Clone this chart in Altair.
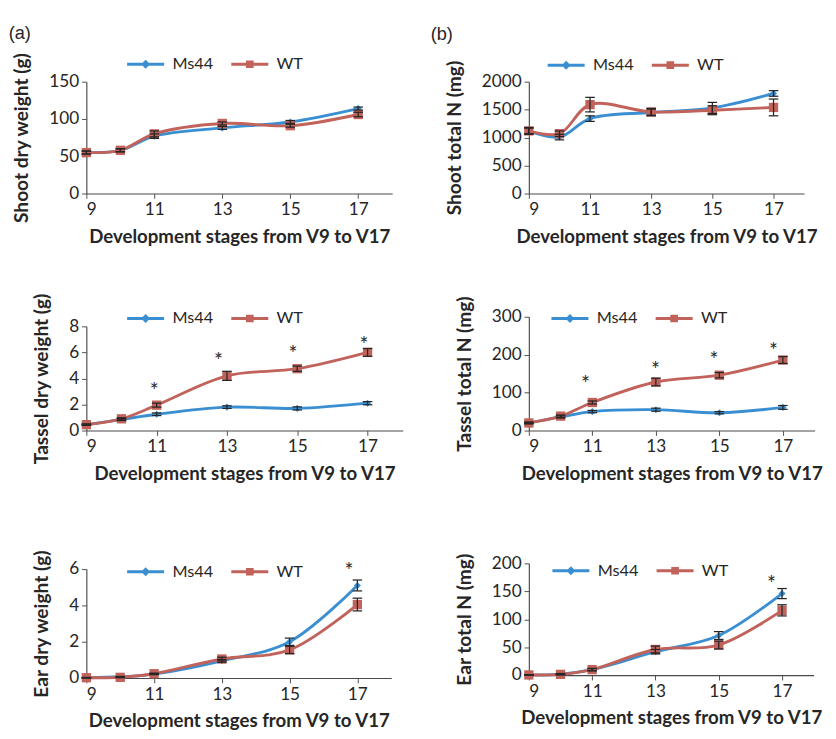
import altair as alt
import pandas as pd

stages = [9, 10, 11, 13, 15, 17]
series_names = ["Ms44", "WT"]
series_colors = ["#3A8FD2", "#C1625B"]
x_ticks = [9, 11, 13, 15, 17]
x_title = "Development stages from V9 to V17"

# Shoot dry weight (g)
shoot_dw_ms = [55, 58, 77, 88, 96, 114]
shoot_dw_wt = [55, 58, 80, 94, 91, 106]
shoot_dw_ms_err = [2, 2, 3, 2, 2, 2]
shoot_dw_wt_err = [2, 2, 4, 2, 2, 3]

# Shoot total N (mg)
shoot_n_ms = [1120, 1010, 1340, 1450, 1530, 1790]
shoot_n_wt = [1120, 1070, 1590, 1460, 1490, 1540]
shoot_n_ms_err = [60, 50, 50, 60, 100, 50]
shoot_n_wt_err = [50, 50, 130, 60, 80, 150]

# Tassel dry weight (g)
tassel_dw_ms = [0.45, 0.85, 1.25, 1.8, 1.7, 2.1]
tassel_dw_wt = [0.45, 0.9, 1.95, 4.2, 4.75, 6.0]
tassel_dw_ms_err = [0.05, 0.08, 0.1, 0.1, 0.12, 0.12]
tassel_dw_wt_err = [0.05, 0.08, 0.15, 0.35, 0.2, 0.3]
tassel_dw_star_x = [10.93, 12.76, 14.88, 16.9]
tassel_dw_star_y = [3.4, 5.7, 6.2, 6.9]

# Tassel total N (mg)
tassel_n_ms = [20, 36, 50, 55, 47, 61]
tassel_n_wt = [20, 38, 74, 128, 146, 186]
tassel_n_ms_err = [2, 3, 3, 4, 3, 5]
tassel_n_wt_err = [2, 3, 4, 10, 7, 9]
tassel_n_star_x = [10.78, 12.99, 14.83, 16.7]
tassel_n_star_y = [134, 171, 199, 222]

# Ear dry weight (g)
ear_dw_ms = [0.02, 0.07, 0.22, 0.95, 2.0, 5.1]
ear_dw_wt = [0.02, 0.04, 0.24, 1.05, 1.55, 4.05]
ear_dw_ms_err = [0.01, 0.02, 0.03, 0.08, 0.2, 0.3]
ear_dw_wt_err = [0.01, 0.02, 0.03, 0.1, 0.2, 0.35]
ear_dw_star_x = [16.75]
ear_dw_star_y = [6.16]

# Ear total N (mg)
ear_n_ms = [0.5, 2, 10, 42, 71, 146]
ear_n_wt = [0.5, 1.5, 10, 46, 54, 116]
ear_n_ms_err = [0.5, 1, 2, 4, 7, 9]
ear_n_wt_err = [0.5, 1, 2, 6, 7, 10]
ear_n_star_x = [16.67]
ear_n_star_y = [172]

FONT = "Lato"
INK = "#262626"
legend_paths = [
    "M-1,0L1,0M0,-0.13L0.13,0L0,0.13L-0.13,0Z",
    "M-1,0L1,0M-0.13,-0.13L0.13,-0.13L0.13,0.13L-0.13,0.13Z",
]


def make_df(ms, wt, ms_err, wt_err):
    rows = []
    for name, vals, errs in (("Ms44", ms, ms_err), ("WT", wt, wt_err)):
        for s, v, e in zip(stages, vals, errs):
            rows.append({"stage": s, "value": v, "lo": v - e, "hi": v + e, "series": name})
    return pd.DataFrame(rows)


def panel(ms, wt, ms_err, wt_err, ymax, ystep, ytitle, star_x, star_y,
          w, h, lx, ly, title=None, title_dx=0, title_offset=-5):
    df = make_df(ms, wt, ms_err, wt_err)
    base = alt.Chart(df)
    xs = alt.Scale(domain=[9, 18], nice=False, zero=False)
    ys = alt.Scale(domain=[0, ymax], nice=False)
    yvals = list(range(0, ymax + 1, ystep))
    xaxis = alt.Axis(values=x_ticks, title=x_title, titlePadding=10)
    yaxis = alt.Axis(values=yvals, title=ytitle, format="d", labelOverlap=False)

    def X(field="stage"):
        return alt.X(f"{field}:Q", scale=xs, axis=xaxis)

    def Y(field="value"):
        return alt.Y(f"{field}:Q", scale=ys, axis=yaxis)

    layers = []
    for name, col in zip(series_names, series_colors):
        layers.append(base.transform_filter(alt.datum.series == name).mark_line(
            strokeWidth=3, interpolate="catmull-rom", color=col).encode(x=X(), y=Y()))
    for name, col, shp, sz in zip(series_names, series_colors, ["diamond", "square"], [55, 95]):
        layers.append(base.transform_filter(alt.datum.series == name).mark_point(
            shape=shp, filled=True, size=sz, opacity=1, color=col).encode(x=X(), y=Y()))
    # error bars: stem + caps
    layers.append(base.mark_rule(color=INK, strokeWidth=1.3).encode(
        x=X(), y=Y("lo"), y2="hi:Q"))
    for fld in ("lo", "hi"):
        layers.append(base.mark_point(shape="stroke", size=100, filled=False, opacity=1,
                                      color=INK, strokeWidth=1.3).encode(x=X(), y=Y(fld)))
    leg = alt.Legend(orient="none", legendX=lx, legendY=ly, direction="horizontal",
                     title=None, symbolSize=1500, symbolStrokeWidth=3, symbolOpacity=1,
                     labelFont=FONT, labelFontSize=17, labelColor=INK, labelOffset=7,
                     columnPadding=12)
    col_scale = alt.Scale(domain=series_names, range=series_colors)
    layers.append(base.mark_point(filled=False, opacity=0).encode(
        x=X(), y=Y(),
        color=alt.Color("series:N", scale=col_scale, legend=leg),
        shape=alt.Shape("series:N", scale=alt.Scale(domain=series_names, range=legend_paths),
                        legend=leg),
    ))
    if star_x:
        sdf = pd.DataFrame({"stage": star_x, "value": star_y})
        layers.append(alt.Chart(sdf).mark_text(text="*", font=FONT, fontSize=22, color=INK,
                                               baseline="middle", dy=5).encode(
            x=X(), y=Y()))
    props = dict(width=w, height=h)
    if title:
        props["title"] = alt.TitleParams(title, anchor="start", fontSize=19, fontWeight="normal",
                                         font="Liberation Sans", color=INK, dx=title_dx,
                                         dy=-6, offset=title_offset)
    return alt.layer(*layers).properties(**props)


a1 = panel(shoot_dw_ms, shoot_dw_wt, shoot_dw_ms_err, shoot_dw_wt_err, 150, 50,
           "Shoot dry weight (g)", [], [], 320, 117, 41, -39.5, "(a)", -4)
b1 = panel(shoot_n_ms, shoot_n_wt, shoot_n_ms_err, shoot_n_wt_err, 2000, 500,
           "Shoot total N  (mg)", [], [], 288, 117, 18, -38.5, "(b)", -15)
a2 = panel(tassel_dw_ms, tassel_dw_wt, tassel_dw_ms_err, tassel_dw_wt_err, 8, 2,
           "Tassel dry weight (g)", tassel_dw_star_x, tassel_dw_star_y, 331, 109, 41, -29.5)
b2 = panel(tassel_n_ms, tassel_n_wt, tassel_n_ms_err, tassel_n_wt_err, 300, 100,
           "Tassel total N (mg)", tassel_n_star_x, tassel_n_star_y, 299, 119, 22, -19.5)
a3 = panel(ear_dw_ms, ear_dw_wt, ear_dw_ms_err, ear_dw_wt_err, 6, 2,
           "Ear dry weight (g)", ear_dw_star_x, ear_dw_star_y, 319, 114, 41, -18.5)
b3 = panel(ear_n_ms, ear_n_wt, ear_n_ms_err, ear_n_wt_err, 200, 50,
           "Ear total N (mg)", ear_n_star_x, ear_n_star_y, 298, 117, 23, -13.5)

IND = dict(color="independent", shape="independent")
left_col = alt.vconcat(
    alt.vconcat(a1, a2, spacing=48).resolve_legend(**IND), a3, spacing=69
).resolve_legend(**IND)
right_col = alt.concat(
    alt.concat(b1, b2, columns=1, align="none", spacing=52).resolve_legend(**IND),
    b3, columns=1, align="none", spacing=70
).resolve_legend(**IND)

chart = alt.hconcat(left_col, right_col, spacing=29).resolve_legend(**IND).properties(
    padding={"left": 0, "top": 0, "right": 5, "bottom": 0}
).configure_view(stroke=None).configure_axis(
    grid=False,
    domainColor="#4a4a4a", domainWidth=1.2,
    tickColor="#4a4a4a", tickSize=5,
    labelFont=FONT, labelFontSize=18, labelColor=INK, labelPadding=3,
    titleFont=FONT, titleFontSize=19.5, titleFontWeight="bold", titleColor=INK,
).configure_axisY(titlePadding=18, titleFontSize=20)

chart.save("out.html", embed_options={"renderer": "svg", "actions": False})
